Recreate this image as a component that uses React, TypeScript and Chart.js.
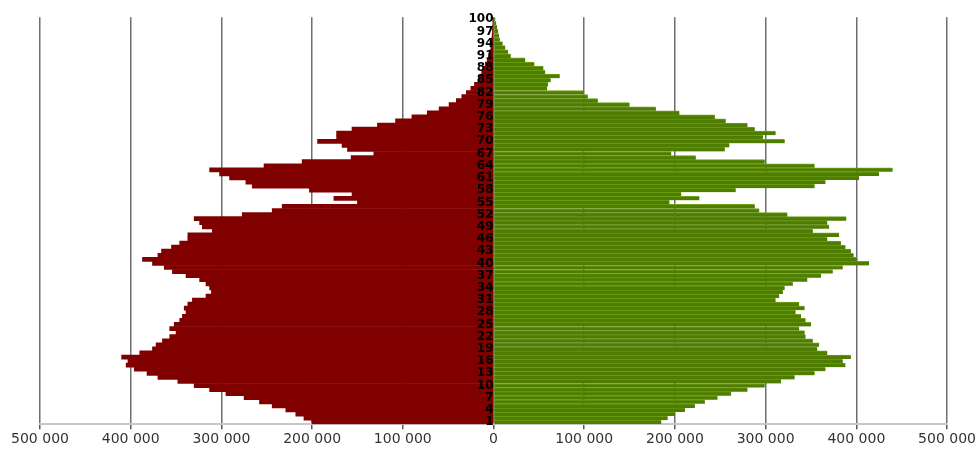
import React, { useEffect, useRef } from "react";
import { Chart, registerables } from "chart.js";

Chart.register(...registerables);

// Ages 1..100 (bottom to top)
const ages: number[] = Array.from({ length: 100 }, (_, i) => i + 1);

// Age labels shown on the centre axis
const shownAges: number[] = [
  1, 4, 7, 10, 13, 16, 19, 22, 25, 28, 31, 34, 37, 40, 43, 46, 49, 52, 55, 58,
  61, 64, 67, 70, 73, 76, 79, 82, 85, 88, 91, 94, 97, 100,
];

// Left side (red), ages 1..100
const males: number[] = [
  200000, 209000, 218000, 229000, 244000, 258000, 275000, 295000, 313000, 330000,
  348000, 370000, 382000, 396000, 405000, 403000, 410000, 390000, 376000, 372000,
  365000, 357000, 350000, 357000, 352000, 346000, 343000, 339000, 341000, 337000,
  332000, 317000, 311000, 313000, 317000, 324000, 339000, 354000, 363000, 376000,
  387000, 370000, 366000, 355000, 346000, 337000, 337000, 310000, 321000, 324000,
  330000, 277000, 244000, 233000, 150000, 176000, 156000, 203000, 266000, 273000,
  291000, 302000, 313000, 253000, 211000, 157000, 132000, 161000, 167000, 194000,
  173000, 173000, 156000, 128000, 108000, 90000, 73000, 60000, 49000, 41000,
  35000, 30000, 25000, 21000, 17000, 15000, 13000, 11000, 9000, 7000,
  5500, 4000, 3000, 2500, 2000, 1500, 1200, 1000, 700, 500,
];

// Right side (green), ages 1..100
const females: number[] = [
  185000, 192000, 200000, 211000, 222000, 233000, 247000, 262000, 280000, 299000,
  317000, 332000, 354000, 366000, 388000, 385000, 394000, 368000, 357000, 359000,
  352000, 344000, 343000, 337000, 350000, 344000, 339000, 333000, 343000, 337000,
  311000, 315000, 319000, 321000, 330000, 346000, 361000, 374000, 385000, 414000,
  401000, 397000, 394000, 388000, 383000, 368000, 381000, 352000, 370000, 368000,
  389000, 324000, 293000, 288000, 194000, 227000, 207000, 267000, 354000, 366000,
  403000, 425000, 440000, 354000, 299000, 223000, 196000, 255000, 260000, 321000,
  297000, 311000, 288000, 280000, 256000, 244000, 205000, 179000, 150000, 115000,
  104000, 99000, 59000, 60000, 63000, 73000, 57000, 55000, 45000, 35000,
  19000, 16000, 13000, 10000, 7000, 6000, 5000, 4000, 3000, 2000,
];

const xMin = -500000;
const xMax = 500000;
const xStep = 100000;

function fmt(v: number): string {
  return String(Math.abs(v)).replace(/\B(?=(\d{3})+(?!\d))/g, " ");
}

export default function App() {
  const ref = useRef<HTMLCanvasElement | null>(null);

  useEffect(() => {
    const canvas = ref.current;
    if (!canvas) return;
    const chart = new Chart(canvas, {
      type: "bar",
      data: {
        labels: ages.map(String),
        datasets: [
          {
            label: "Left",
            data: males.map((v) => -v),
            backgroundColor: "#800000",
            borderWidth: 0,
            barPercentage: 1,
            categoryPercentage: 1,
          },
          {
            label: "Right",
            data: females,
            backgroundColor: "#4e7d00",
            borderColor: "#6fa216",
            borderWidth: { top: 1, right: 0, bottom: 0, left: 0 },
            borderSkipped: false,
            barPercentage: 1,
            categoryPercentage: 1,
          },
        ],
      },
      options: {
        indexAxis: "y",
        animation: false,
        responsive: false,
        devicePixelRatio: 1,
        layout: { padding: { left: 40, right: 28, top: 12, bottom: 1 } },
        plugins: {
          legend: { display: false },
          tooltip: { enabled: false },
          title: { display: false },
        },
        scales: {
          x: {
            type: "linear",
            min: xMin,
            max: xMax,
            stacked: true,
            ticks: {
              stepSize: xStep,
              autoSkip: false,
              maxRotation: 0,
              padding: 2,
              color: "#333",
              font: { family: "DejaVu Sans", size: 14 },
              callback: (v: any) => fmt(Number(v)),
            },
            grid: {
              color: "#6e6e6e",
              lineWidth: 1.5,
              tickLength: 5,
              tickColor: "#555",
            },
            border: { color: "#c8c8c8", width: 2 },
          },
          y: {
            type: "category",
            stacked: true,
            reverse: true,
            position: { x: 0 },
            grid: { display: false, drawTicks: false },
            border: { display: false },
            ticks: {
              z: 1,
              autoSkip: false,
              padding: 10,
              color: "#000",
              font: { family: "DejaVu Sans", size: 12, weight: "bold" },
              callback: (_v: any, i: number) =>
                shownAges.includes(ages[i]) ? String(ages[i]) : "",
            },
          },
        },
      } as any,
    });
    return () => chart.destroy();
  }, []);

  return (
    <div
      style={{
        position: "fixed",
        left: 0,
        top: 0,
        width: 978,
        height: 451,
        background: "#fff",
      }}
    >
      <canvas ref={ref} width={978} height={451} style={{ display: "block" }} />
    </div>
  );
}
